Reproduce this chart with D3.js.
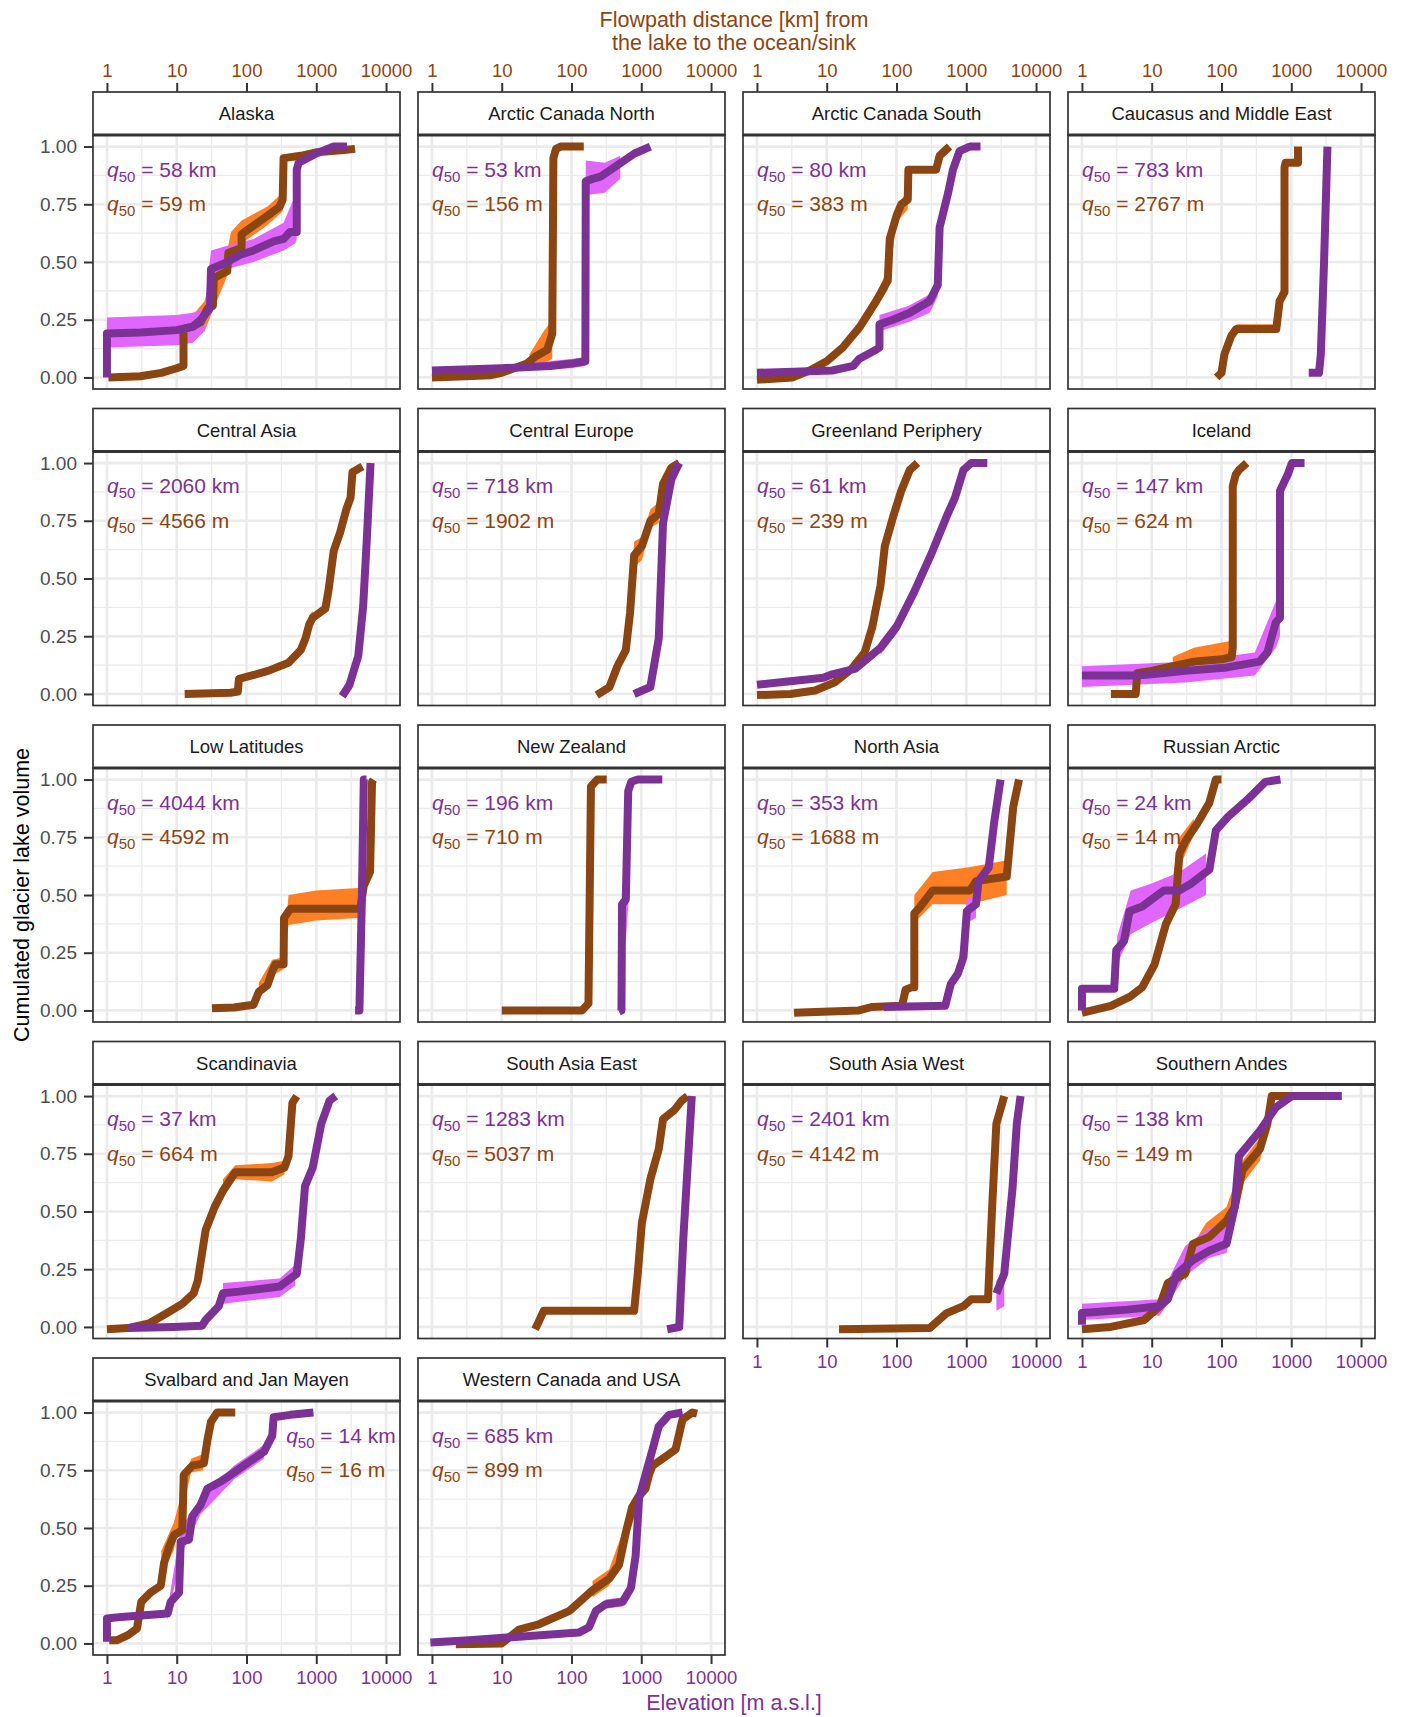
<!DOCTYPE html>
<html>
<head>
<meta charset="utf-8">
<script src="https://cdn.jsdelivr.net/npm/d3@7"></script>
<style>
  body { margin: 0; background: #fff; }
  svg text { font-family: "Liberation Sans", Arial, Helvetica, sans-serif; }
</style>
</head>
<body>
<div id="chart"></div>
<script>
var regions = ["Alaska", "Arctic Canada North", "Arctic Canada South", "Caucasus and Middle East",
  "Central Asia", "Central Europe", "Greenland Periphery", "Iceland",
  "Low Latitudes", "New Zealand", "North Asia", "Russian Arctic",
  "Scandinavia", "South Asia East", "South Asia West", "Southern Andes",
  "Svalbard and Jan Mayen", "Western Canada and USA"];

var q50Km = [58, 53, 80, 783, 2060, 718, 61, 147, 4044, 196, 353, 24, 37, 1283, 2401, 138, 14, 685];
var q50M = [59, 156, 383, 2767, 4566, 1902, 239, 624, 4592, 710, 1688, 14, 664, 5037, 4142, 149, 16, 899];
// x (data units) where the q50 labels start
var labelX = [1, 1, 1, 1, 1, 1, 1, 1, 1, 1, 1, 1, 1, 1, 1, 1, 370, 1];

var xTicks = [1, 10, 100, 1000, 10000];
var yTicks = [0, 0.25, 0.5, 0.75, 1];

// flowpath distance curves [km, cumulated volume]
var kmLines = [
  [[1,0],[1,0.19],[3,0.195],[10,0.205],[17,0.22],[22,0.25],[30,0.3],[31,0.47],[45,0.49],[53,0.5],[80,0.53],[126,0.55],[250,0.59],[340,0.6],[420,0.63],[525,0.63],[525,0.9],[560,0.93],[1000,0.97],[1780,1.0],[2750,1.0]],
  [[1,0.03],[10,0.04],[50,0.05],[100,0.06],[158,0.07],[160,0.85],[200,0.86],[263,0.87],[460,0.92],[800,0.97],[1350,1.0]],
  [[1,0.02],[12,0.03],[24,0.05],[29,0.08],[51,0.12],[57,0.13],[57,0.23],[89,0.25],[155,0.28],[297,0.33],[390,0.4],[415,0.65],[550,0.8],[645,0.9],[800,0.98],[1120,1.0],[1600,1.0]],
  [[1780,0.02],[2500,0.02],[2650,0.1],[2950,0.5],[3300,1.0]],
  [[2350,-0.01],[3000,0.04],[4000,0.165],[4700,0.38],[5300,0.67],[6000,1.0]],
  [[790,0],[1350,0.03],[1780,0.24],[2050,0.74],[2700,0.93],[3500,1.0]],
  [[1,0.04],[3,0.055],[9,0.07],[12,0.085],[26,0.11],[59,0.2],[100,0.29],[178,0.44],[309,0.6],[525,0.77],[690,0.85],[910,0.97],[1180,1.0],[2000,1.0]],
  [[1,0.08],[6,0.08],[10,0.085],[30,0.1],[120,0.115],[350,0.14],[455,0.18],[600,0.31],[690,0.33],[690,0.88],[890,0.95],[1020,1.0],[1550,1.0]],
  [[3600,0],[4150,0],[4500,0.48],[4800,1.0],[5250,1.0]],
  [[480,-0.005],[520,0],[530,0.46],[600,0.48],[650,0.95],[720,0.99],[890,1.0],[2000,1.0]],
  [[66,0.015],[500,0.02],[550,0.07],[600,0.115],[760,0.16],[910,0.23],[1020,0.43],[1380,0.46],[1500,0.56],[2100,0.62],[2500,0.81],[3100,1.0]],
  [[1,0],[1,0.094],[2.9,0.094],[3.1,0.26],[4,0.3],[4.8,0.43],[7.3,0.45],[11,0.49],[15,0.52],[25,0.52],[37,0.55],[67,0.61],[83,0.78],[125,0.84],[230,0.91],[425,0.99],[700,1.0]],
  [[2,-0.005],[9,0],[23,0.005],[26,0.03],[40,0.09],[46,0.146],[78,0.153],[300,0.175],[525,0.23],[600,0.38],[690,0.61],[890,0.69],[1180,0.88],[1550,0.98],[1900,1.0]],
  [[2350,-0.01],[3500,0],[4000,0.38],[5300,1.0]],
  [[2700,0.145],[3500,0.23],[4600,0.6],[5300,0.88],[6000,1.0]],
  [[1,0.01],[1,0.06],[4.5,0.075],[13,0.09],[17,0.12],[23,0.23],[39,0.29],[67,0.33],[118,0.36],[155,0.52],[178,0.74],[355,0.85],[600,0.95],[1020,1.0],[5300,1.0]],
  [[1,0.007],[1,0.108],[1.6,0.115],[7.4,0.13],[8.2,0.18],[10.8,0.22],[11.4,0.44],[15,0.45],[16.7,0.55],[22,0.6],[27.5,0.67],[42,0.7],[66,0.74],[102,0.78],[178,0.83],[234,0.9],[245,0.98],[425,0.99],[910,1.0]],
  [[0.95,0.004],[3.4,0.014],[17.7,0.029],[127,0.047],[178,0.07],[223,0.14],[309,0.17],[540,0.18],[710,0.24],[830,0.38],[930,0.63],[1150,0.73],[1450,0.84],[1780,0.94],[2500,0.99],[3900,1.0]]
];

// elevation curves [m, cumulated volume]
var mLines = [
  [[1.05,0],[3,0.005],[6,0.02],[10,0.04],[12.5,0.05],[12.5,0.21],[17,0.22],[22,0.24],[28,0.3],[33,0.31],[34,0.43],[45,0.45],[53,0.46],[55,0.54],[85,0.56],[85,0.62],[130,0.66],[200,0.7],[300,0.74],[330,0.77],[340,0.95],[600,0.96],[1000,0.975],[2500,0.985],[3600,0.99]],
  [[1,0],[3,0.005],[7,0.01],[10,0.02],[23,0.06],[30,0.09],[45,0.12],[53,0.19],[55,0.95],[60,0.99],[70,1.0],[150,1.0]],
  [[1,-0.01],[3.2,0],[5.7,0.03],[10,0.07],[17,0.13],[30,0.22],[51,0.33],[75,0.42],[80,0.6],[100,0.7],[117,0.75],[145,0.77],[148,0.9],[370,0.9],[415,0.96],[575,1.0]],
  [[85,0],[100,0.02],[110,0.1],[138,0.18],[163,0.21],[610,0.21],[680,0.33],[800,0.37],[800,0.91],[830,0.93],[1250,0.93],[1250,1.0]],
  [[13,0],[59,0.005],[75,0.01],[78,0.065],[120,0.08],[204,0.1],[400,0.135],[600,0.19],[700,0.24],[790,0.3],[890,0.33],[1350,0.37],[1500,0.45],[1780,0.62],[2200,0.7],[2700,0.8],[3100,0.85],[3300,0.96],[4000,0.975],[4600,0.985]],
  [[230,-0.005],[350,0.03],[455,0.12],[600,0.19],[690,0.35],[790,0.6],[1020,0.64],[1350,0.75],[1780,0.78],[2050,0.91],[2700,0.98],[3500,1.0]],
  [[1,-0.005],[3,0],[6.8,0.015],[13,0.05],[23,0.11],[35,0.18],[45,0.29],[59,0.47],[68,0.64],[90,0.77],[117,0.88],[155,0.97],[200,1.0]],
  [[2.6,0],[5.9,0],[6.2,0.09],[10,0.1],[20,0.12],[40,0.14],[100,0.15],[140,0.16],[145,0.2],[145,0.9],[160,0.95],[178,0.97],[230,1.0]],
  [[32,0.01],[66,0.013],[126,0.025],[150,0.08],[200,0.11],[234,0.17],[260,0.2],[340,0.2],[345,0.4],[425,0.44],[4270,0.44],[4800,0.54],[5900,0.6],[6300,0.99],[6600,1.0]],
  [[10,0],[141,0],[175,0.03],[190,0.97],[235,1.0],[320,1.0]],
  [[3.4,-0.01],[29,0],[44,0.015],[120,0.02],[135,0.09],[163,0.1],[180,0.1],[180,0.42],[220,0.45],[330,0.52],[1130,0.52],[1380,0.56],[3800,0.58],[4700,0.88],[5700,1.0]],
  [[1,-0.01],[1.4,0],[2.6,0.02],[4.9,0.06],[7.3,0.1],[11,0.2],[16,0.375],[22,0.46],[25,0.68],[30,0.73],[45,0.81],[67,0.9],[83,1.0],[100,1.0]],
  [[1,-0.01],[2,-0.005],[4,0.015],[7.8,0.066],[12,0.1],[17.5,0.146],[20,0.2],[26,0.42],[35,0.52],[46,0.59],[69,0.67],[230,0.67],[350,0.69],[400,0.74],[455,0.97],[525,1.0]],
  [[30,-0.01],[33,0.015],[40,0.07],[790,0.07],[890,0.23],[1020,0.45],[1350,0.64],[1780,0.77],[2050,0.9],[3000,0.94],[3800,0.98],[4600,1.0]],
  [[15,-0.01],[300,-0.005],[525,0.06],[910,0.09],[1180,0.12],[2050,0.12],[2350,0.52],[2700,0.88],[3500,1.0]],
  [[1,-0.01],[2.6,0],[7.8,0.03],[13,0.09],[17,0.19],[30,0.23],[39,0.36],[67,0.39],[118,0.46],[155,0.52],[200,0.68],[355,0.77],[455,0.88],[525,1.0],[1780,1.0]],
  [[1.08,0.014],[1.4,0.014],[2,0.036],[2.7,0.065],[3.1,0.18],[4.2,0.22],[5.9,0.25],[6.6,0.35],[7.8,0.42],[9.2,0.47],[12,0.49],[12.6,0.73],[16.7,0.77],[24.5,0.78],[27.5,0.88],[31,0.96],[38,1.0],[69,1.0]],
  [[2.2,-0.003],[10,0],[17.7,0.06],[34,0.083],[92,0.14],[200,0.23],[345,0.28],[480,0.34],[600,0.48],[740,0.59],[930,0.64],[1150,0.67],[1290,0.73],[1450,0.77],[2240,0.81],[3100,0.84],[3900,0.97],[5400,1.0],[6300,0.995]]
];

// uncertainty bands [x, low, high]
var kmBands = [
  [[1,0.13,0.26],[10,0.14,0.27],[17,0.15,0.28],[25,0.2,0.3],[31,0.4,0.55],[53,0.47,0.57],[126,0.5,0.6],[340,0.55,0.67],[500,0.58,0.79],[525,0.6,0.8]],
  [[10,0.03,0.05],[100,0.04,0.08],[158,0.05,0.09],[160,0.79,0.94],[300,0.8,0.93],[500,0.86,0.96]],
  [[57,0.2,0.27],[150,0.24,0.31],[300,0.28,0.36],[390,0.35,0.43]],
  [],
  [],
  [],
  [[59,0.17,0.23],[100,0.26,0.32],[178,0.42,0.47]],
  [[1,0.03,0.12],[30,0.05,0.14],[300,0.08,0.18],[600,0.2,0.4],[690,0.25,0.42]],
  [],
  [[540,0.3,0.45],[600,0.3,0.68],[650,0.45,0.68]],
  [[760,0.12,0.19],[1020,0.38,0.48],[1380,0.4,0.5]],
  [[3.2,0.2,0.32],[5,0.33,0.52],[10,0.38,0.55],[25,0.44,0.6],[60,0.5,0.68]],
  [[46,0.1,0.19],[300,0.13,0.21],[500,0.18,0.27]],
  [],
  [[2700,0.07,0.2],[3500,0.09,0.25]],
  [[1,0.03,0.1],[13,0.05,0.12],[17,0.1,0.2],[30,0.22,0.35],[67,0.3,0.43],[118,0.32,0.45],[155,0.48,0.58]],
  [[7.4,0.1,0.15],[11.4,0.38,0.5],[22,0.56,0.63],[66,0.71,0.77],[178,0.8,0.86]],
  [[309,0.15,0.19],[540,0.16,0.2]]
];

var mBands = [
  [[17,0.18,0.27],[25,0.2,0.33],[34,0.3,0.47],[53,0.44,0.55],[60,0.53,0.63],[85,0.58,0.68],[200,0.66,0.74],[330,0.72,0.8]],
  [[25,0.04,0.1],[40,0.06,0.2],[53,0.08,0.25]],
  [[30,0.19,0.25],[51,0.3,0.36],[75,0.38,0.47],[100,0.67,0.74],[145,0.73,0.81]],
  [[163,0.2,0.23],[610,0.2,0.23],[680,0.31,0.37],[800,0.35,0.4]],
  [[600,0.17,0.22],[790,0.26,0.34],[890,0.3,0.36]],
  [[690,0.33,0.4],[790,0.55,0.66],[1020,0.58,0.68],[1350,0.72,0.8],[1780,0.74,0.83]],
  [],
  [[20,0.1,0.16],[40,0.12,0.2],[140,0.13,0.23]],
  [[150,0.06,0.12],[234,0.15,0.22],[340,0.18,0.23],[400,0.37,0.5],[1000,0.39,0.52],[4000,0.4,0.53],[4400,0.45,0.56]],
  [],
  [[180,0.38,0.5],[330,0.46,0.6],[1100,0.46,0.62],[3800,0.5,0.65]],
  [[16,0.33,0.4],[25,0.62,0.75],[40,0.76,0.83]],
  [[46,0.56,0.64],[69,0.64,0.7],[230,0.63,0.71],[350,0.66,0.72]],
  [[40,0.06,0.08],[790,0.06,0.08]],
  [],
  [[30,0.2,0.3],[60,0.35,0.45],[118,0.43,0.52],[200,0.62,0.72],[355,0.72,0.82],[455,0.85,0.92]],
  [[6,0.3,0.4],[9,0.4,0.52],[16,0.74,0.8],[24,0.75,0.82]],
  [[200,0.2,0.27],[345,0.25,0.32],[600,0.44,0.52],[930,0.6,0.68],[1290,0.68,0.76]]
];

(function() {
  var width = 1405;
  var height = 1717;
  var brown = "#8B4513";
  var purple = "#7B3294";
  var orange = "#FF7F24";
  var pink = "#E066FF";
  var ink = "#333333";

  var panelW = 307, panelH = 254, stripH = 43;
  var colLeft = function(c) { return 93 + 325 * c; };
  var stripTop = function(r) { return 92 + 316.5 * r; };

  var svg = d3.select("#chart")
    .append("svg")
    .attr("width", width)
    .attr("height", height);

  var x = d3.scaleLog()
    .domain([Math.pow(10, -0.2), Math.pow(10, 4.2)])
    .range([0, panelW]);
  var y = d3.scaleLinear()
    .domain([-0.05, 1.05])
    .range([panelH, 0]);

  var line = d3.line()
    .x(function(d) { return x(d[0]); })
    .y(function(d) { return y(d[1]); });
  var area = d3.area()
    .x(function(d) { return x(d[0]); })
    .y0(function(d) { return y(d[1]); })
    .y1(function(d) { return y(d[2]); });

  var minorX = [0.5, 1.5, 2.5, 3.5].map(function(e) { return Math.pow(10, e); });
  var minorY = [0.125, 0.375, 0.625, 0.875];

  function styleAxis(g, color, size) {
    g.select(".domain").remove();
    g.selectAll(".tick line").attr("stroke", ink).attr("stroke-width", 2);
    g.selectAll(".tick text")
      .attr("fill", color)
      .attr("font-size", size)
      .attr("font-family", "Liberation Sans, Arial, sans-serif");
  }

  regions.forEach(function(name, i) {
    var r = Math.floor(i / 4), c = i % 4;
    var sTop = stripTop(r);
    var g = svg.append("g")
      .attr("transform", "translate(" + colLeft(c) + "," + (sTop + stripH) + ")");

    // grid
    var grid = g.append("g");
    grid.selectAll(".gxm").data(minorX).enter().append("line")
      .attr("x1", x).attr("x2", x).attr("y1", 0).attr("y2", panelH)
      .attr("stroke", "#EBEBEB").attr("stroke-width", 1.3);
    grid.selectAll(".gym").data(minorY).enter().append("line")
      .attr("y1", y).attr("y2", y).attr("x1", 0).attr("x2", panelW)
      .attr("stroke", "#EBEBEB").attr("stroke-width", 1.3);
    grid.selectAll(".gx").data(xTicks).enter().append("line")
      .attr("x1", x).attr("x2", x).attr("y1", 0).attr("y2", panelH)
      .attr("stroke", "#EBEBEB").attr("stroke-width", 2.7);
    grid.selectAll(".gy").data(yTicks).enter().append("line")
      .attr("y1", y).attr("y2", y).attr("x1", 0).attr("x2", panelW)
      .attr("stroke", "#EBEBEB").attr("stroke-width", 2.7);

    svg.append("clipPath").attr("id", "clip" + i)
      .append("rect").attr("width", panelW).attr("height", panelH);
    var plot = g.append("g").attr("clip-path", "url(#clip" + i + ")");

    if (mBands[i].length) {
      plot.append("path").attr("d", area(mBands[i])).attr("fill", orange);
    }
    if (kmBands[i].length) {
      plot.append("path").attr("d", area(kmBands[i])).attr("fill", pink);
    }
    plot.append("path").attr("d", line(mLines[i]))
      .attr("fill", "none").attr("stroke", brown).attr("stroke-width", 8)
      .attr("stroke-linejoin", "round");
    plot.append("path").attr("d", line(kmLines[i]))
      .attr("fill", "none").attr("stroke", purple).attr("stroke-width", 8)
      .attr("stroke-linejoin", "round");

    // q50 labels
    [[q50Km[i] + " km", purple, 0.9], [q50M[i] + " m", brown, 0.75]].forEach(function(l) {
      var t = g.append("text")
        .attr("x", x(labelX[i]))
        .attr("y", y(l[2]) + 7)
        .attr("fill", l[1])
        .attr("font-size", 21);
      t.append("tspan").attr("font-style", "italic").text("q");
      t.append("tspan").attr("font-size", 15).attr("dy", 5).text("50");
      t.append("tspan").attr("dy", -5).text(" = " + l[0]);
    });

    g.append("rect")
      .attr("width", panelW).attr("height", panelH)
      .attr("fill", "none").attr("stroke", ink).attr("stroke-width", 1.7);

    // strip
    var strip = svg.append("g")
      .attr("transform", "translate(" + colLeft(c) + "," + sTop + ")");
    strip.append("rect")
      .attr("width", panelW).attr("height", stripH)
      .attr("fill", "#fff").attr("stroke", ink).attr("stroke-width", 1.7);
    strip.append("line")
      .attr("x1", 0).attr("x2", panelW).attr("y1", stripH).attr("y2", stripH)
      .attr("stroke", ink).attr("stroke-width", 3);
    strip.append("text")
      .attr("x", panelW / 2).attr("y", stripH / 2 + 6.5)
      .attr("text-anchor", "middle")
      .attr("font-size", 18.5)
      .attr("fill", "#1A1A1A")
      .text(name);

    if (c === 0) {
      g.append("g")
        .call(d3.axisLeft(y).tickValues(yTicks).tickFormat(d3.format(".2f")).tickSize(9).tickPadding(7))
        .call(styleAxis, "#4D4D4D", 19);
    }
    if (r === 0) {
      strip.append("g")
        .call(d3.axisTop(x).tickValues(xTicks).tickFormat(d3.format("d")).tickSize(9).tickPadding(6.5))
        .call(styleAxis, brown, 18.5);
    }
    if (i + 4 >= regions.length) {
      g.append("g")
        .attr("transform", "translate(0," + panelH + ")")
        .call(d3.axisBottom(x).tickValues(xTicks).tickFormat(d3.format("d")).tickSize(9).tickPadding(7))
        .call(styleAxis, purple, 18.5);
    }
  });

  // axis titles
  var top = svg.append("text")
    .attr("text-anchor", "middle")
    .attr("fill", brown)
    .attr("font-size", 21.5);
  top.append("tspan").attr("x", 734).attr("y", 27).text("Flowpath distance [km] from");
  top.append("tspan").attr("x", 734).attr("y", 50).text("the lake to the ocean/sink");

  svg.append("text")
    .attr("x", 734).attr("y", 1710)
    .attr("text-anchor", "middle")
    .attr("fill", purple)
    .attr("font-size", 21.5)
    .text("Elevation [m a.s.l.]");

  svg.append("text")
    .attr("transform", "translate(29,895) rotate(-90)")
    .attr("text-anchor", "middle")
    .attr("fill", "#000")
    .attr("font-size", 21.5)
    .text("Cumulated glacier lake volume");
})();
</script>
</body>
</html>
